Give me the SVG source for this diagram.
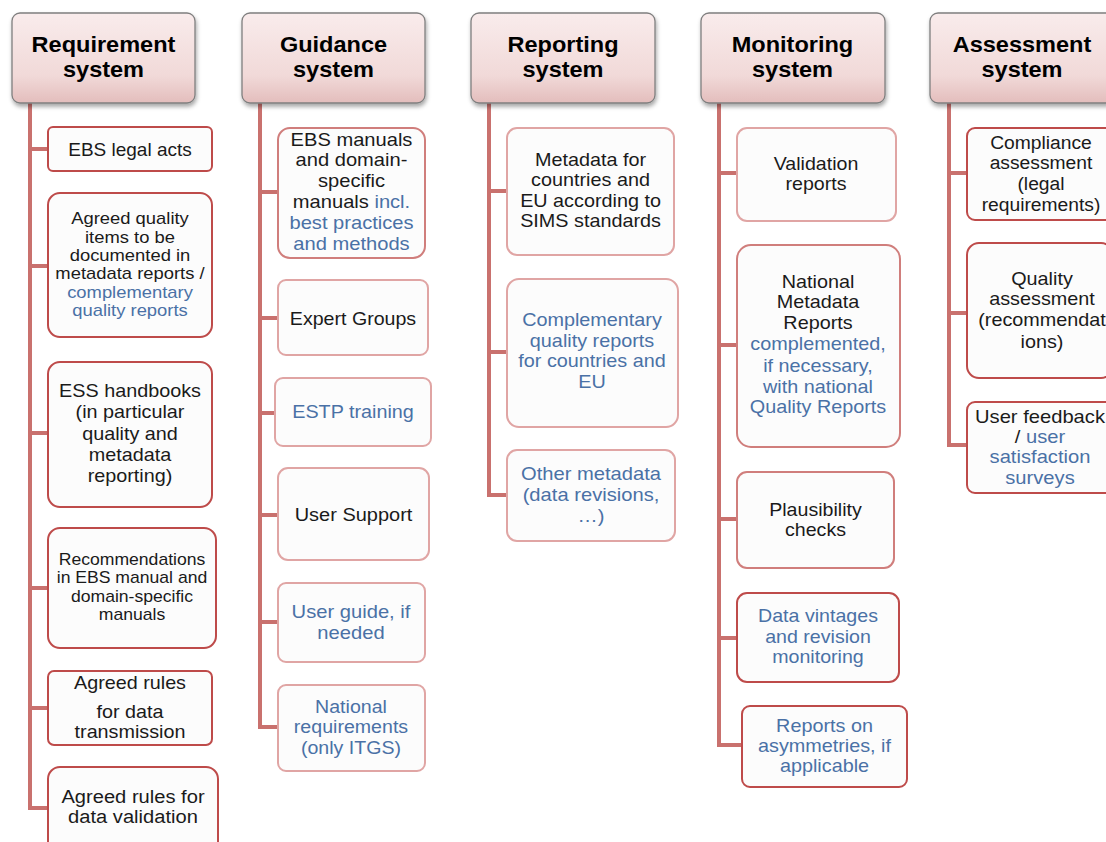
<svg xmlns="http://www.w3.org/2000/svg" width="1106" height="842" viewBox="0 0 1106 842">
<defs>
<linearGradient id="hg" x1="0" y1="0" x2="0" y2="1">
<stop offset="0" stop-color="#F9ECEC"/>
<stop offset="0.7" stop-color="#F1D9D8"/>
<stop offset="1" stop-color="#E3BDBC"/>
</linearGradient>
<filter id="sh" x="-10%" y="-10%" width="125%" height="130%">
<feDropShadow dx="1" dy="3" stdDeviation="2" flood-color="#000" flood-opacity="0.35"/>
</filter>
<style>
.hd{fill:url(#hg);stroke:#7F7F7F;stroke-width:1.3;filter:url(#sh)}
.ht{font-family:"Liberation Sans",Arial,sans-serif;font-weight:bold;font-size:22px;fill:#000;text-anchor:middle}
.bx{fill:#FCFCFC;stroke-width:2}
.dk{stroke:#BE4B4A}
.md{stroke:#D07E7C}
.lt{stroke:#E0A5A4}
.t{font-family:"Liberation Sans",Arial,sans-serif;fill:#1A1A1A;text-anchor:middle}
.b{fill:#4A71A6}
.cn{fill:none;stroke:#C9716E;stroke-width:4}
</style>
</defs>
<rect width="1106" height="842" fill="#FFFFFF"/>

<g id="connectors">
<path class="cn" d="M30 103V810M30 149H48M30 266H48M30 433H48M30 588H48M30 708H48M30 808H48"/>
<path class="cn" d="M260 103V729M260 192H278M260 318H278M260 413H275M260 515H278M260 622H278M260 727H278"/>
<path class="cn" d="M489 103V497M489 191H507M489 352H507M489 495H507"/>
<path class="cn" d="M719 103V747M719 173H737M719 345H737M719 519H737M719 638H737M719 745H742"/>
<path class="cn" d="M949 103V447M949 173H967M949 313H967M949 445H967"/>
</g>

<g id="requirement-system">
<rect class="hd" x="12" y="13" width="183" height="90" rx="8"/>
<g transform="translate(103.5 0) scale(1.07 1)"><text class="ht" x="0" y="52.5">Requirement</text>
<text class="ht" x="0" y="77">system</text></g>
</g>
<g id="guidance-system">
<rect class="hd" x="242" y="13" width="183" height="90" rx="8"/>
<g transform="translate(333.5 0) scale(1.07 1)"><text class="ht" x="0" y="52.5">Guidance</text>
<text class="ht" x="0" y="77">system</text></g>
</g>
<g id="reporting-system">
<rect class="hd" x="471" y="13" width="184" height="90" rx="8"/>
<g transform="translate(563 0) scale(1.07 1)"><text class="ht" x="0" y="52.5">Reporting</text>
<text class="ht" x="0" y="77">system</text></g>
</g>
<g id="monitoring-system">
<rect class="hd" x="701" y="13" width="184" height="90" rx="8"/>
<g transform="translate(792.5 0) scale(1.07 1)"><text class="ht" x="0" y="52.5">Monitoring</text>
<text class="ht" x="0" y="77">system</text></g>
</g>
<g id="assessment-system">
<rect class="hd" x="930" y="13" width="184" height="90" rx="8"/>
<g transform="translate(1022 0) scale(1.07 1)"><text class="ht" x="0" y="52.5">Assessment</text>
<text class="ht" x="0" y="77">system</text></g>
</g>

<!-- Requirement column -->
<g id="r1">
<rect class="bx dk" x="48" y="127" width="164" height="44" rx="5"/>
<g transform="translate(130 0)" class="t" font-size="19"><text y="156">EBS legal acts</text></g>
</g>
<g id="r2">
<rect class="bx dk" x="48" y="193" width="164" height="144" rx="12"/>
<g transform="translate(130 0) scale(1.15 1)" class="t" font-size="16">
<text y="224">Agreed quality</text>
<text y="243">items to be</text>
<text y="261">documented in</text>
<text y="279">metadata reports /</text>
<text class="t b" y="298">complementary</text>
<text class="t b" y="316">quality reports</text>
</g>
</g>
<g id="r3">
<rect class="bx dk" x="48" y="362" width="164" height="145" rx="12"/>
<g transform="translate(130 0) scale(1.1 1)" class="t" font-size="18">
<text y="397">ESS handbooks</text>
<text y="418.5">(in particular</text>
<text y="440">quality and</text>
<text y="461">metadata</text>
<text y="482">reporting)</text>
</g>
</g>
<g id="r4">
<rect class="bx dk" x="48" y="528" width="168" height="120" rx="12"/>
<g transform="translate(132 0) scale(1.1 1)" class="t" font-size="16">
<text y="565">Recommendations</text>
<text y="583">in EBS manual and</text>
<text y="602">domain-specific</text>
<text y="620">manuals</text>
</g>
</g>
<g id="r5">
<rect class="bx dk" x="48" y="671" width="164" height="74" rx="6"/>
<g transform="translate(130 0) scale(1.04 1)" class="t" font-size="19">
<text y="689">Agreed rules</text>
<text y="718">for data</text>
<text y="738">transmission</text>
</g>
</g>
<g id="r6">
<rect class="bx dk" x="48" y="767" width="170" height="95" rx="12"/>
<g transform="translate(133 0) scale(1.06 1)" class="t" font-size="19">
<text y="803">Agreed rules for</text>
<text y="823">data validation</text>
</g>
</g>

<!-- Guidance column -->
<g id="g1">
<rect class="bx md" x="278" y="128" width="147" height="130" rx="12"/>
<g transform="translate(351.5 0) scale(1.15 1)" class="t" font-size="17.5">
<text y="146">EBS manuals</text>
<text y="166">and domain-</text>
<text y="187">specific</text>
<text y="208">manuals <tspan class="b">incl.</tspan></text>
<text class="t b" y="229">best practices</text>
<text class="t b" y="250">and methods</text>
</g>
</g>
<g id="g2">
<rect class="bx lt" x="278" y="280" width="150" height="75" rx="8"/>
<g transform="translate(353 0) scale(1.06 1)" class="t" font-size="18.5"><text y="325">Expert Groups</text></g>
</g>
<g id="g3">
<rect class="bx lt" x="275" y="378" width="156" height="68" rx="8"/>
<g transform="translate(353 0) scale(1.13 1)" font-size="17.5"><text class="t b" y="418">ESTP training</text></g>
</g>
<g id="g4">
<rect class="bx lt" x="278" y="468" width="151" height="92" rx="10"/>
<g transform="translate(353.5 0) scale(1.08 1)" class="t" font-size="18.5"><text y="521">User Support</text></g>
</g>
<g id="g5">
<rect class="bx lt" x="278" y="583" width="147" height="79" rx="8"/>
<g transform="translate(351 0) scale(1.12 1)" font-size="18">
<text class="t b" y="618">User guide, if</text>
<text class="t b" y="639">needed</text>
</g>
</g>
<g id="g6">
<rect class="bx lt" x="278" y="685" width="147" height="86" rx="8"/>
<g transform="translate(351 0) scale(1.12 1)" font-size="17.5">
<text class="t b" y="713">National</text>
<text class="t b" y="733">requirements</text>
<text class="t b" y="754">(only ITGS)</text>
</g>
</g>

<!-- Reporting column -->
<g id="p1">
<rect class="bx lt" x="507" y="128" width="167" height="127" rx="10"/>
<g transform="translate(590.5 0) scale(1.1 1)" class="t" font-size="18">
<text y="166">Metadata  for</text>
<text y="186">countries and</text>
<text y="207">EU according to</text>
<text y="227">SIMS standards</text>
</g>
</g>
<g id="p2">
<rect class="bx lt" x="507" y="279" width="171" height="148" rx="12"/>
<g transform="translate(592 0) scale(1.1 1)" font-size="18">
<text class="t b" y="326">Complementary</text>
<text class="t b" y="347">quality reports</text>
<text class="t b" y="367">for countries and</text>
<text class="t b" y="388">EU</text>
</g>
</g>
<g id="p3">
<rect class="bx lt" x="507" y="450" width="168" height="91" rx="10"/>
<g transform="translate(591 0) scale(1.12 1)" font-size="18">
<text class="t b" y="480">Other metadata</text>
<text class="t b" y="501">(data revisions,</text>
<text class="t b" y="522">…)</text>
</g>
</g>

<!-- Monitoring column -->
<g id="m1">
<rect class="bx lt" x="737" y="128" width="159" height="93" rx="10"/>
<g transform="translate(816 0) scale(1.09 1)" class="t" font-size="18">
<text y="170">Validation</text>
<text y="190">reports</text>
</g>
</g>
<g id="m2">
<rect class="bx md" x="737" y="245" width="163" height="202" rx="14"/>
<g transform="translate(818 0) scale(1.1 1)" class="t" font-size="18">
<text y="288">National</text>
<text y="308">Metadata</text>
<text y="329">Reports</text>
<text class="t b" y="350">complemented,</text>
<text class="t b" y="372">if necessary,</text>
<text class="t b" y="393">with national</text>
<text class="t b" y="413">Quality  Reports</text>
</g>
</g>
<g id="m3">
<rect class="bx md" x="737" y="472" width="157" height="96" rx="10"/>
<g transform="translate(815.5 0) scale(1.09 1)" class="t" font-size="18">
<text y="516">Plausibility</text>
<text y="536">checks</text>
</g>
</g>
<g id="m4">
<rect class="bx dk" x="737" y="593" width="162" height="89" rx="10"/>
<g transform="translate(818 0) scale(1.09 1)" font-size="18">
<text class="t b" y="622">Data vintages</text>
<text class="t b" y="643">and revision</text>
<text class="t b" y="663">monitoring</text>
</g>
</g>
<g id="m5">
<rect class="bx dk" x="742" y="706" width="165" height="81" rx="8"/>
<g transform="translate(824.5 0) scale(1.1 1)" font-size="18">
<text class="t b" y="732">Reports  on</text>
<text class="t b" y="752">asymmetries,  if</text>
<text class="t b" y="772">applicable</text>
</g>
</g>

<!-- Assessment column -->
<g id="a1">
<rect class="bx dk" x="967" y="128" width="146" height="92" rx="8"/>
<g transform="translate(1041 0) scale(1.07 1)" class="t" font-size="18">
<text y="149">Compliance</text>
<text y="169">assessment</text>
<text y="190">(legal</text>
<text y="211">requirements)</text>
</g>
</g>
<g id="a2">
<rect class="bx dk" x="967" y="243" width="146" height="135" rx="12"/>
<g transform="translate(1042 0) scale(1.1 1)" class="t" font-size="18">
<text y="285">Quality</text>
<text y="305">assessment</text>
<text y="326">(recommendat</text>
<text y="348">ions)</text>
</g>
</g>
<g id="a3">
<rect class="bx dk" x="967" y="402" width="146" height="91" rx="8"/>
<g transform="translate(1040 0) scale(1.12 1)" class="t" font-size="18">
<text y="423">User  feedback</text>
<text y="443">/ <tspan class="b">user</tspan></text>
<text class="t b" y="463">satisfaction</text>
<text class="t b" y="484">surveys</text>
</g>
</g>
</svg>
